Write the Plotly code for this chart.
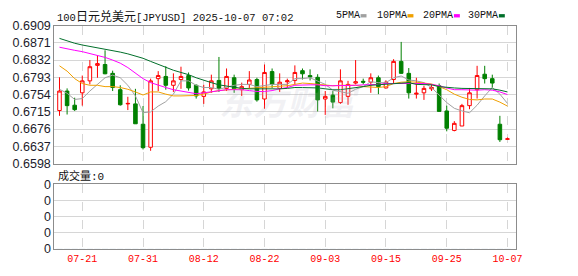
import plotly.graph_objects as go

# ---------------- data ----------------
dates = ["07-16", "07-17", "07-18", "07-21", "07-22", "07-23", "07-24", "07-25", "07-28", "07-29",
         "07-30", "07-31", "08-01", "08-04", "08-05", "08-06", "08-07", "08-08", "08-11", "08-12",
         "08-13", "08-14", "08-15", "08-18", "08-19", "08-20", "08-21", "08-22", "08-25", "08-26",
         "08-27", "08-28", "08-29", "09-01", "09-02", "09-03", "09-04", "09-05", "09-08", "09-09",
         "09-10", "09-11", "09-12", "09-15", "09-16", "09-17", "09-18", "09-19", "09-22", "09-23",
         "09-24", "09-25", "09-26", "09-29", "09-30", "10-01", "10-02", "10-03", "10-06", "10-07"]

open_ = [0.6718, 0.6762, 0.6730, 0.6758, 0.6785, 0.6820, 0.6822, 0.6802, 0.6765, 0.6733,
         0.6733, 0.6687, 0.6635, 0.6790, 0.6795, 0.6775, 0.6788, 0.6797, 0.6775, 0.6750,
         0.6767, 0.6786, 0.6768, 0.6792, 0.6765, 0.6777, 0.6788, 0.6744, 0.6806, 0.6768,
         0.6783, 0.6786, 0.6808, 0.6797, 0.6793, 0.6744, 0.6753, 0.6736, 0.6750, 0.6780,
         0.6784, 0.6782, 0.6792, 0.6769, 0.6788, 0.6829, 0.6802, 0.6755, 0.6758, 0.6767,
         0.6774, 0.6717, 0.6673, 0.6683, 0.6729, 0.6765, 0.6800, 0.6790, 0.6687, 0.6653]
high = [0.6793, 0.6768, 0.6747, 0.6797, 0.6832, 0.6843, 0.6854, 0.6808, 0.6775, 0.6749,
        0.6767, 0.6728, 0.6790, 0.6807, 0.6818, 0.6802, 0.6817, 0.6804, 0.6777, 0.6776,
        0.6799, 0.6839, 0.6813, 0.6799, 0.6781, 0.6807, 0.6792, 0.6822, 0.6813, 0.6802,
        0.6790, 0.6820, 0.6813, 0.6811, 0.6800, 0.6762, 0.6762, 0.6811, 0.6785, 0.6832,
        0.6790, 0.6802, 0.6797, 0.6786, 0.6834, 0.6873, 0.6814, 0.6792, 0.6774, 0.6777,
        0.6779, 0.6729, 0.6694, 0.6733, 0.6769, 0.6819, 0.6819, 0.6799, 0.6706, 0.6657]
low = [0.6706, 0.6709, 0.6717, 0.6729, 0.6777, 0.6792, 0.6800, 0.6762, 0.6729, 0.6719,
       0.6688, 0.6630, 0.6627, 0.6762, 0.6765, 0.6760, 0.6767, 0.6763, 0.6745, 0.6733,
       0.6758, 0.6760, 0.6762, 0.6758, 0.6751, 0.6767, 0.6738, 0.6722, 0.6769, 0.6760,
       0.6769, 0.6777, 0.6788, 0.6786, 0.6716, 0.6708, 0.6723, 0.6733, 0.6731, 0.6777,
       0.6777, 0.6758, 0.6755, 0.6768, 0.6780, 0.6801, 0.6745, 0.6745, 0.6742, 0.6762,
       0.6716, 0.6671, 0.6671, 0.6683, 0.6721, 0.6745, 0.6779, 0.6769, 0.6647, 0.6652]
close = [0.6762, 0.6729, 0.6720, 0.6785, 0.6817, 0.6824, 0.6801, 0.6770, 0.6731, 0.6734,
         0.6688, 0.6634, 0.6785, 0.6797, 0.6775, 0.6785, 0.6795, 0.6769, 0.6751, 0.6760,
         0.6785, 0.6768, 0.6795, 0.6767, 0.6772, 0.6787, 0.6742, 0.6804, 0.6777, 0.6782,
         0.6785, 0.6804, 0.6801, 0.6794, 0.6742, 0.6750, 0.6737, 0.6785, 0.6777, 0.6783,
         0.6782, 0.6792, 0.6772, 0.6782, 0.6829, 0.6802, 0.6758, 0.6757, 0.6768, 0.6770,
         0.6716, 0.6678, 0.6689, 0.6729, 0.6758, 0.6797, 0.6790, 0.6780, 0.6652, 0.6654]

ma5 = [0.6766, 0.6757, 0.6743, 0.6745, 0.6762, 0.6777, 0.6792, 0.6798, 0.6792, 0.6775,
       0.6751, 0.6713, 0.6715, 0.6728, 0.6738, 0.6755, 0.6785, 0.6785, 0.6775, 0.6770,
       0.6770, 0.6766, 0.6770, 0.6775, 0.6777, 0.6777, 0.6772, 0.6775, 0.6777, 0.6777,
       0.6777, 0.6790, 0.6790, 0.6792, 0.6785, 0.6777, 0.6764, 0.6760, 0.6757, 0.6766,
       0.6772, 0.6783, 0.6781, 0.6781, 0.6792, 0.6796, 0.6787, 0.6785, 0.6781, 0.6770,
       0.6753, 0.6736, 0.6723, 0.6717, 0.6713, 0.6730, 0.6751, 0.6770, 0.6755, 0.6734]
ma10 = [0.6819, 0.6807, 0.6790, 0.6779, 0.6775, 0.6775, 0.6772, 0.6772, 0.6770, 0.6766,
        0.6760, 0.6753, 0.6760, 0.6760, 0.6755, 0.6751, 0.6751, 0.6751, 0.6752, 0.6755,
        0.6760, 0.6763, 0.6765, 0.6766, 0.6767, 0.6768, 0.6769, 0.6770, 0.6772, 0.6773,
        0.6774, 0.6777, 0.6780, 0.6779, 0.6777, 0.6775, 0.6774, 0.6775, 0.6775, 0.6775,
        0.6772, 0.6771, 0.6770, 0.6772, 0.6779, 0.6782, 0.6783, 0.6782, 0.6780, 0.6778,
        0.6772, 0.6765, 0.6755, 0.6748, 0.6743, 0.6742, 0.6744, 0.6744, 0.6737, 0.6728]
ma20 = [0.6861, 0.6857, 0.6854, 0.6851, 0.6847, 0.6843, 0.6838, 0.6832, 0.6825, 0.6815,
        0.6802, 0.6790, 0.6781, 0.6775, 0.6770, 0.6765, 0.6762, 0.6760, 0.6756, 0.6758,
        0.6760, 0.6763, 0.6765, 0.6765, 0.6765, 0.6763, 0.6761, 0.6761, 0.6763, 0.6767,
        0.6770, 0.6775, 0.6776, 0.6776, 0.6776, 0.6774, 0.6774, 0.6774, 0.6774, 0.6775,
        0.6776, 0.6776, 0.6777, 0.6779, 0.6779, 0.6779, 0.6779, 0.6779, 0.6779, 0.6777,
        0.6774, 0.6769, 0.6765, 0.6765, 0.6764, 0.6764, 0.6765, 0.6764, 0.6760, 0.6754]
ma30 = [0.6881, 0.6875, 0.6870, 0.6866, 0.6863, 0.6860, 0.6857, 0.6854, 0.6850, 0.6846,
        0.6841, 0.6836, 0.6829, 0.6822, 0.6815, 0.6809, 0.6804, 0.6799, 0.6792, 0.6786,
        0.6781, 0.6776, 0.6773, 0.6770, 0.6768, 0.6767, 0.6767, 0.6766, 0.6766, 0.6767,
        0.6768, 0.6770, 0.6770, 0.6770, 0.6769, 0.6767, 0.6765, 0.6765, 0.6767, 0.6770,
        0.6772, 0.6775, 0.6776, 0.6777, 0.6779, 0.6780, 0.6781, 0.6777, 0.6777, 0.6776,
        0.6772, 0.6770, 0.6769, 0.6768, 0.6768, 0.6768, 0.6768, 0.6767, 0.6764, 0.6760]

volume = [0] * 60

x_tick_labels = ["07-21", "07-31", "08-12", "08-22", "09-03", "09-15", "09-25", "10-07"]
y_tick_labels = ["0.6598", "0.6637", "0.6676", "0.6715", "0.6754", "0.6793", "0.6832", "0.6871", "0.6909"]
vol_tick_labels = ["0", "0", "0", "0", "0"]

ma_names = ["5PMA", "10PMA", "20PMA", "30PMA"]
ma_colors = ["#a0a0a0", "#f0a000", "#ff00ff", "#006f2a"]

title_text = "100日元兑美元[JPYUSD] 2025-10-07 07:02"
vol_title = "成交量:0"

# ---------------- layout helpers ----------------
W, H = 578, 276
def fx(px):
    return px / W
def fy(py):
    return 1 - py / H

PL, PR = 55, 522
MAIN_TOP, MAIN_BOT = 20, 165
VOL_TOP, VOL_BOT = 186.7, 255

fig = go.Figure()

fig.add_trace(go.Candlestick(
    x=dates, open=open_, high=high, low=low, close=close,
    increasing=dict(line=dict(color="#ff0000", width=1), fillcolor="#ffffff"),
    decreasing=dict(line=dict(color="#008000", width=1), fillcolor="#008000"),
    whiskerwidth=0, showlegend=False, hoverinfo="skip",
    xaxis="x", yaxis="y"))

for name, vals, col in zip(ma_names, [ma5, ma10, ma20, ma30], ma_colors):
    fig.add_trace(go.Scatter(x=dates, y=vals, mode="lines", name=name,
                             line=dict(color=col, width=1), showlegend=False,
                             hoverinfo="skip", xaxis="x", yaxis="y"))

fig.add_trace(go.Bar(x=dates, y=volume, marker_color="#008000", showlegend=False,
                     hoverinfo="skip", xaxis="x2", yaxis="y2"))

xrange = [-0.68, len(dates) - 1 + 1.08]
axis_line = "#8c8c8c"
grid_col = "#d6d6d6"

common_x = dict(type="category", range=xrange, domain=[fx(PL), fx(PR)],
                tickmode="array", tickvals=x_tick_labels, ticktext=x_tick_labels,
                showgrid=True, gridcolor=grid_col, griddash="dash", gridwidth=1,
                showline=True, mirror=True, linecolor=axis_line, linewidth=1,
                ticks="", zeroline=False, fixedrange=True)

fig.update_layout(
    width=W, height=H, margin=dict(l=0, r=0, t=0, b=0),
    paper_bgcolor="#ffffff", plot_bgcolor="#ffffff",
    boxgap=0.33,
    xaxis=dict(**common_x, anchor="y", showticklabels=False,
               rangeslider=dict(visible=False)),
    xaxis2=dict(**common_x, anchor="y2", showticklabels=True,
                tickfont=dict(family="Liberation Mono", size=10, color="#ff0000")),
    yaxis=dict(domain=[fy(MAIN_BOT), fy(MAIN_TOP)], range=[0.6598, 0.6909],
               tickmode="array", tickvals=[float(t) for t in y_tick_labels], ticktext=y_tick_labels,
               showgrid=True, gridcolor=grid_col, gridwidth=1, zeroline=False,
               showline=True, mirror=True, linecolor=axis_line, linewidth=1, ticks="",
               tickfont=dict(family="Liberation Sans", size=12.5, color="#1c1c2c"),
               anchor="x", fixedrange=True),
    yaxis2=dict(domain=[fy(VOL_BOT), fy(VOL_TOP)], range=[0, 4],
                tickmode="array", tickvals=[0, 1, 2, 3, 4], ticktext=vol_tick_labels,
                showgrid=True, gridcolor=grid_col, gridwidth=1, zeroline=False,
                showline=True, mirror=True, linecolor=axis_line, linewidth=1, ticks="",
                tickfont=dict(family="Liberation Sans", size=12.5, color="#1c1c2c"),
                anchor="x2", fixedrange=True),
)

annotations = []
# title
annotations.append(dict(
    xref="paper", yref="paper", x=fx(56), y=fy(9), xanchor="left", yanchor="middle",
    text=title_text.replace("日元兑美元", "<span style='font-family:Noto Sans CJK SC;font-size:12px'>日元兑美元</span>"),
    showarrow=False, font=dict(family="Liberation Mono", size=10.5, color="#111111")))
# legend labels and swatches
leg_x = [338, 380, 426, 471.5]
sw_x = [365, 412.5, 459.5, 505]
shapes = []
for name, col, lx, sx in zip(ma_names, ma_colors, leg_x, sw_x):
    annotations.append(dict(xref="paper", yref="paper", x=fx(lx), y=fy(9),
                            xanchor="left", yanchor="middle", text=name, showarrow=False,
                            font=dict(family="Liberation Mono", size=10, color="#111111")))
    shapes.append(dict(type="rect", xref="paper", yref="paper",
                       x0=fx(sx), x1=fx(sx + 6), y0=fy(11), y1=fy(7.5),
                       fillcolor=col, line=dict(width=0)))
# volume caption
annotations.append(dict(
    xref="paper", yref="paper", x=fx(57), y=fy(177), xanchor="left", yanchor="middle",
    text="<span style='font-family:Noto Sans CJK SC'>成交量</span>:0", showarrow=False,
    font=dict(family="Liberation Mono", size=11, color="#111111")))
# watermark
annotations.append(dict(
    xref="paper", yref="paper", x=fx(293), y=fy(98), xanchor="center", yanchor="middle",
    text="<b><i>东方财富</i></b>", showarrow=False,
    font=dict(family="Noto Sans CJK SC", size=34, color="rgba(185,185,200,0.2)")))

fig.update_layout(annotations=annotations, shapes=shapes)

fig.write_html("out.html")
